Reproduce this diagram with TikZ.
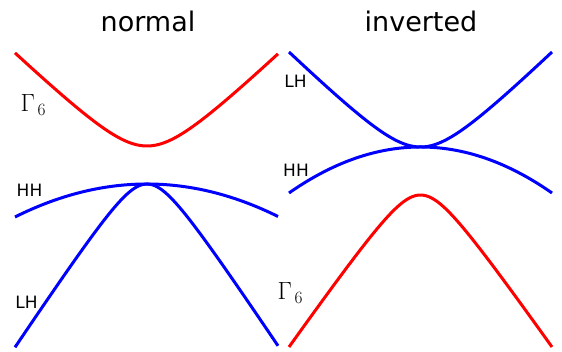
\documentclass[tikz,border=0pt]{standalone}
\usepackage{fontspec}
\setmainfont{DejaVu Sans}
\newcommand{\gsix}{{\fontsize{23}{28}\selectfont$\Gamma$}\kern2.5pt\raisebox{-4pt}{\fontsize{16}{19}\selectfont$6$}}
\begin{document}
\begin{tikzpicture}[x=10pt,y=-10pt,
  band/.style={line width=3pt,smooth,samples=120},
  title/.style={font=\fontsize{27}{32}\selectfont,anchor=base,inner sep=0pt},
  lbl/.style={font=\fontsize{17}{20}\selectfont,anchor=base,inner sep=0pt},
  glbl/.style={anchor=base west,inner sep=0pt}]
\useasboundingbox (0,0) rectangle (56.2,35.2);
% titles
\node[title] (tn) at (14.8,3.2) {normal};
\node[title] (ti) at (42.1,3.2) {inverted};
% normal panel
\draw[band,red,domain=1.5:27.8] plot (\x,{14.6-(sqrt(16+(0.9616*(\x-14.7))^2)-4)});
\draw[band,blue,domain=1.5:27.8] plot (\x,{18.4+3.3*((\x-14.7)/13.2)^2});
\draw[band,blue,domain=1.5:27.8] plot (\x,{18.4+(sqrt(16+(1.51*(\x-14.7))^2)-4)});
% inverted panel
\draw[band,blue,domain=28.9:55.2] plot (\x,{14.7-(sqrt(16+(0.9805*(\x-42.05))^2)-4)});
\draw[band,blue,domain=28.9:55.2] plot (\x,{14.7+4.6*((\x-42.05)/13.15)^2});
\draw[band,red,domain=28.9:55.2] plot (\x,{19.5+(sqrt(16+(1.428*(\x-42.05))^2)-4)});
% labels
\node[glbl] (g1) at (2.05,11.2) {\gsix};
\node[lbl] (hh1) at (2.95,19.7) {HH};
\node[lbl] (lh1) at (2.65,30.9) {LH};
\node[lbl] (lh2) at (29.55,8.8) {LH};
\node[lbl] (hh2) at (29.6,17.7) {HH};
\node[glbl] (g2) at (27.75,30.0) {\gsix};
\end{tikzpicture}
\end{document}
